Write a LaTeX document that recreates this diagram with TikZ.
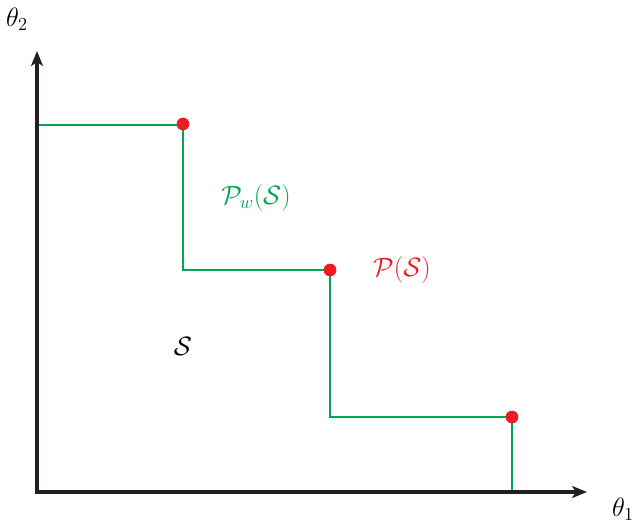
\documentclass[tikz,border=0pt]{standalone}
\usetikzlibrary{arrows.meta}
\definecolor{axisc}{HTML}{231F20}
\definecolor{frontg}{HTML}{00A651}
\definecolor{paretor}{HTML}{ED1C24}
\begin{document}
\begin{tikzpicture}[x=1pt,y=-1pt,
  axisline/.style={draw=axisc,line width=3.2pt,-{Stealth[length=15pt,width=12pt,inset=4pt]}},
  stairline/.style={draw=frontg,line width=2.6pt},
  paretopt/.style={circle,fill=paretor,inner sep=0pt,minimum size=12.5pt},
  lbl/.style={inner sep=0pt,scale=1.28,font=\fontsize{20}{24}\selectfont}]
\useasboundingbox (0,0) rectangle (634,524);
\coordinate (O) at (37,492);
\coordinate (Ytip) at (37,51);
\coordinate (Xtip) at (587,492);
\coordinate (s0) at (37,125);
\coordinate (s4) at (330,417);
\coordinate (s6) at (512,492);
\node[paretopt] (p1) at (183,124) {};
\node[paretopt] (p2) at (330,270) {};
\node[paretopt] (p3) at (512,417) {};
\draw[stairline] (s0) -| (p1.center) |- (p2.center) |- (s4) -- (p3.center) -- (s6);
\draw[axisline] (O) -- (Ytip);
\draw[axisline] ([xshift=-1.6pt]O) -- (Xtip);
\node[paretopt] at (p1) {};
\node[paretopt] at (p2) {};
\node[paretopt] at (p3) {};
\node[lbl] (t2) at (17,19) {$\theta_2$};
\node[lbl] (t1) at (623,509) {$\theta_1$};
\node[lbl,text=frontg] (pw) at (256,198) {$\mathcal{P}_w(\mathcal{S})$};
\node[lbl,text=paretor] (ps) at (402,270) {$\mathcal{P}(\mathcal{S})$};
\node[lbl] (S) at (183,346) {$\mathcal{S}$};
\end{tikzpicture}
\end{document}
